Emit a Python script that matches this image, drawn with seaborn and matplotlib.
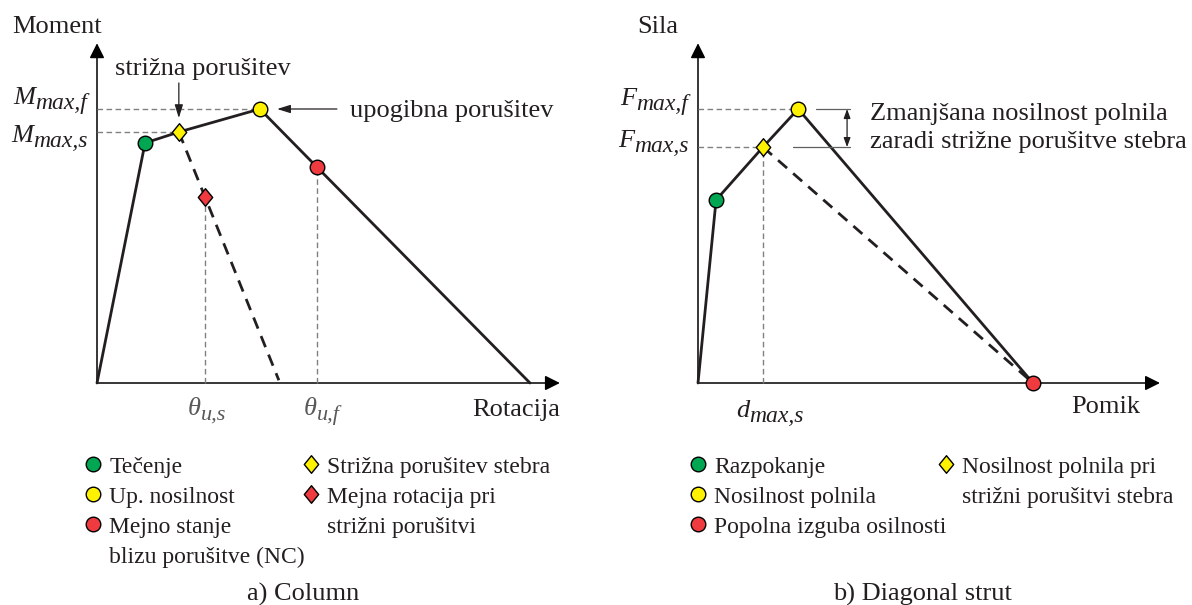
import matplotlib
matplotlib.use("Agg")
import matplotlib.pyplot as plt
import seaborn as sns
from matplotlib.path import Path
from matplotlib.markers import MarkerStyle
from matplotlib.lines import Line2D

# ---------------- data ----------------
# a) Column: moment - rotation backbone
col_rotation = [0.0, 1.11, 1.89, 3.76, 5.08, 10.0]
col_moment = [0.0, 87.6, 91.6, 100.0, 78.8, 0.0]
# descending branch after shear failure of the column
col_shear_rotation = [1.89, 4.20]
col_shear_moment = [91.6, 1.0]
# characteristic points (rotation, moment)
col_yield = [1.11, 87.6]
col_peak = [3.76, 100.0]
col_nc = [5.08, 78.8]
col_shear = [1.89, 91.6]
col_shear_limit = [2.50, 68.0]

# b) Diagonal strut: force - displacement backbone
strut_disp = [0.0, 0.54, 1.94, 2.99, 10.0]
strut_force = [0.0, 66.8, 86.1, 100.0, 0.0]
strut_shear_disp = [1.94, 10.0]
strut_shear_force = [86.1, 0.0]
strut_crack = [0.54, 66.8]
strut_peak = [2.99, 100.0]
strut_collapse = [10.0, 0.0]
strut_shear = [1.94, 86.1]

col_legend_1 = ["Tečenje", "Up. nosilnost", "Mejno stanje", "blizu porušitve (NC)"]
col_legend_2 = ["Strižna porušitev stebra", "Mejna rotacija pri", "strižni porušitvi"]
strut_legend_1 = ["Razpokanje", "Nosilnost polnila", "Popolna izguba osilnosti"]
strut_legend_2 = ["Nosilnost polnila pri", "strižni porušitvi stebra"]

# ---------------- style ----------------
sns.set_theme(style="white")
plt.rcParams["font.family"] = ["Liberation Serif", "DejaVu Serif"]

GREEN = "#00a651"
YELLOW = "#fff200"
RED = "#ef3b3f"
INK = "#231f20"
GUIDE = "#808080"
GREYTXT = "#595959"

DIAMOND = MarkerStyle(Path([(0, 1), (0.82, 0), (0, -1), (-0.82, 0), (0, 1)],
                           [Path.MOVETO, Path.LINETO, Path.LINETO, Path.LINETO, Path.CLOSEPOLY]))

W, H = 1192, 605
fig = plt.figure(figsize=(W / 100, H / 100), dpi=100)
axL = fig.add_axes([0, 0, 0.5, 1])
axR = fig.add_axes([0.5, 0, 0.5, 1])
axL.set_xlim(-97 / 43.3, 499 / 43.3)
axR.set_xlim(-102 / 33.5, 494 / 33.5)
for ax in (axL, axR):
    ax.set_ylim(-222 / 2.74, 383 / 2.74)
    ax.set_axis_off()


def axis_arrow(ax, start, end):
    ax.annotate("", xy=end, xytext=start,
                arrowprops=dict(arrowstyle="-|>,head_length=0.9,head_width=0.45",
                                color="black", lw=1.1, shrinkA=0, shrinkB=0,
                                mutation_scale=10), zorder=1)


def pointer(ax, start, end, style="-|>,head_length=0.8,head_width=0.25"):
    ax.annotate("", xy=end, xytext=start,
                arrowprops=dict(arrowstyle=style, color=INK, lw=0.9,
                                shrinkA=0, shrinkB=0, mutation_scale=10))


def guide(ax, xs, ys):
    sns.lineplot(x=xs, y=ys, ax=ax, color=GUIDE, lw=1.0, linestyle=(0, (4, 2.5)),
                 sort=False, estimator=None, zorder=1)


def pts(ax, xy, marker, color, s):
    sns.scatterplot(x=[xy[0]], y=[xy[1]], marker=marker, s=s, color=color,
                    edgecolor="black", linewidth=1.0, zorder=5, ax=ax, legend=False)
    return ax.collections[-1]


def T(px, py, s, **kw):
    kw.setdefault("fontsize", 19)
    kw.setdefault("color", INK)
    return fig.text(px / W, 1 - py / H, s, **kw)


def sub_label(x, yb, base, sub, ha="right", size=19, subsize=17, drop=5, color=INK):
    t1 = fig.text(0, 0, base, fontsize=size, style="italic", color=color, ha="left", va="baseline")
    t2 = fig.text(0, 0, sub, fontsize=subsize, style="italic", color=color, ha="left", va="baseline")
    r = fig.canvas.get_renderer()
    w1 = t1.get_window_extent(renderer=r).width
    w2 = t2.get_window_extent(renderer=r).width
    tot = w1 + w2
    x0 = x - tot if ha == "right" else (x - tot / 2 if ha == "center" else x)
    t1.set_position((x0 / W, 1 - yb / H))
    t2.set_position(((x0 + w1) / W, 1 - (yb + drop) / H))


# ================= a) Column =================
axis_arrow(axL, (0, 0), (10.69, 0))
axis_arrow(axL, (0, 0), (0, 124.0))
guide(axL, [0, col_peak[0]], [col_peak[1], col_peak[1]])
guide(axL, [0, col_shear[0]], [col_shear[1], col_shear[1]])
guide(axL, [col_shear_limit[0], col_shear_limit[0]], [0, col_shear_limit[1]])
guide(axL, [col_nc[0], col_nc[0]], [0, col_nc[1]])

sns.lineplot(x=col_rotation, y=col_moment, ax=axL, color=INK, lw=2.0,
             sort=False, estimator=None, zorder=2)
sns.lineplot(x=col_shear_rotation, y=col_shear_moment, ax=axL, color=INK, lw=2.0,
             linestyle=(0, (4.3, 2.9)), sort=False, estimator=None, zorder=2)

hL_g = pts(axL, col_yield, "o", GREEN, 110)
hL_y = pts(axL, col_peak, "o", YELLOW, 110)
hL_r = pts(axL, col_nc, "o", RED, 110)
hL_yd = pts(axL, col_shear, DIAMOND, YELLOW, 160)
hL_rd = pts(axL, col_shear_limit, DIAMOND, RED, 160)

pointer(axL, (col_shear[0], 109.5), (col_shear[0], 96.7))
pointer(axL, (5.54, col_peak[1]), (4.16, col_peak[1]))

T(12, 33, "Moment", va="baseline")
T(115, 75, "strižna porušitev", va="baseline")
T(350, 117, "upogibna porušitev", va="baseline")
T(560, 416, "Rotacija", ha="right", va="baseline")
sub_label(87, 104, "M", "max,f")
sub_label(88, 142, "M", "max,s")
sub_label(207, 415, "θ", "u,s", ha="center", subsize=16, color=GREYTXT)
sub_label(322, 415, "θ", "u,f", ha="center", subsize=16, color=GREYTXT)
T(303, 601, "a) Column", ha="center", va="baseline")

# ================= b) Diagonal strut =================
axis_arrow(axR, (0, 0), (13.79, 0))
axis_arrow(axR, (0, 0), (0, 124.0))
guide(axR, [0, strut_peak[0]], [strut_peak[1], strut_peak[1]])
guide(axR, [0, strut_shear[0]], [strut_shear[1], strut_shear[1]])
guide(axR, [strut_shear[0], strut_shear[0]], [0, strut_shear[1]])

sns.lineplot(x=strut_disp, y=strut_force, ax=axR, color=INK, lw=2.0,
             sort=False, estimator=None, zorder=2)
sns.lineplot(x=strut_shear_disp, y=strut_shear_force, ax=axR, color=INK, lw=2.0,
             linestyle=(0, (4.3, 2.9)), sort=False, estimator=None, zorder=2)

hR_g = pts(axR, strut_crack, "o", GREEN, 110)
hR_y = pts(axR, strut_peak, "o", YELLOW, 110)
hR_r = pts(axR, strut_collapse, "o", RED, 110)
hR_yd = pts(axR, strut_shear, DIAMOND, YELLOW, 160)

# reduction bracket
axR.plot([3.52, 4.54], [strut_peak[1], strut_peak[1]], color="#606060", lw=0.9)
axR.plot([2.84, 4.54], [strut_shear[1], strut_shear[1]], color="#606060", lw=0.9)
pointer(axR, (4.45, strut_shear[1]), (4.45, strut_peak[1]),
        style="<|-|>,head_length=0.55,head_width=0.2")

T(637, 33, "Sila", va="baseline")
T(1140, 413, "Pomik", ha="right", va="baseline")
T(870, 120, "Zmanjšana nosilnost polnila", va="baseline")
T(870, 148, "zaradi strižne porušitve stebra", va="baseline")
sub_label(688, 105, "F", "max,f")
sub_label(689, 147, "F", "max,s")
sub_label(770, 417, "d", "max,s", ha="center")
T(922, 601, "b) Diagonal strut", ha="center", va="baseline")

# ================= legends =================
blank = Line2D([], [], linestyle="none", marker="none")


def legend(handles, labels, x, y):
    fig.legend(handles=handles, labels=labels, loc="upper left",
               bbox_to_anchor=(x / W, 1 - y / H), bbox_transform=fig.transFigure,
               frameon=False, fontsize=17, handlelength=0.8, handletextpad=0.3,
               labelspacing=0.36, borderpad=0, borderaxespad=0, scatterpoints=1,
               scatteryoffsets=[0.5], labelcolor=INK)


legend([hL_g, hL_y, hL_r, blank], col_legend_1, 83.5, 456)
legend([hL_yd, hL_rd, blank], col_legend_2, 301.5, 456)
legend([hR_g, hR_y, hR_r], strut_legend_1, 688.5, 456)
legend([hR_yd, blank], strut_legend_2, 936.5, 456)

fig.savefig("out.png", dpi=100)
